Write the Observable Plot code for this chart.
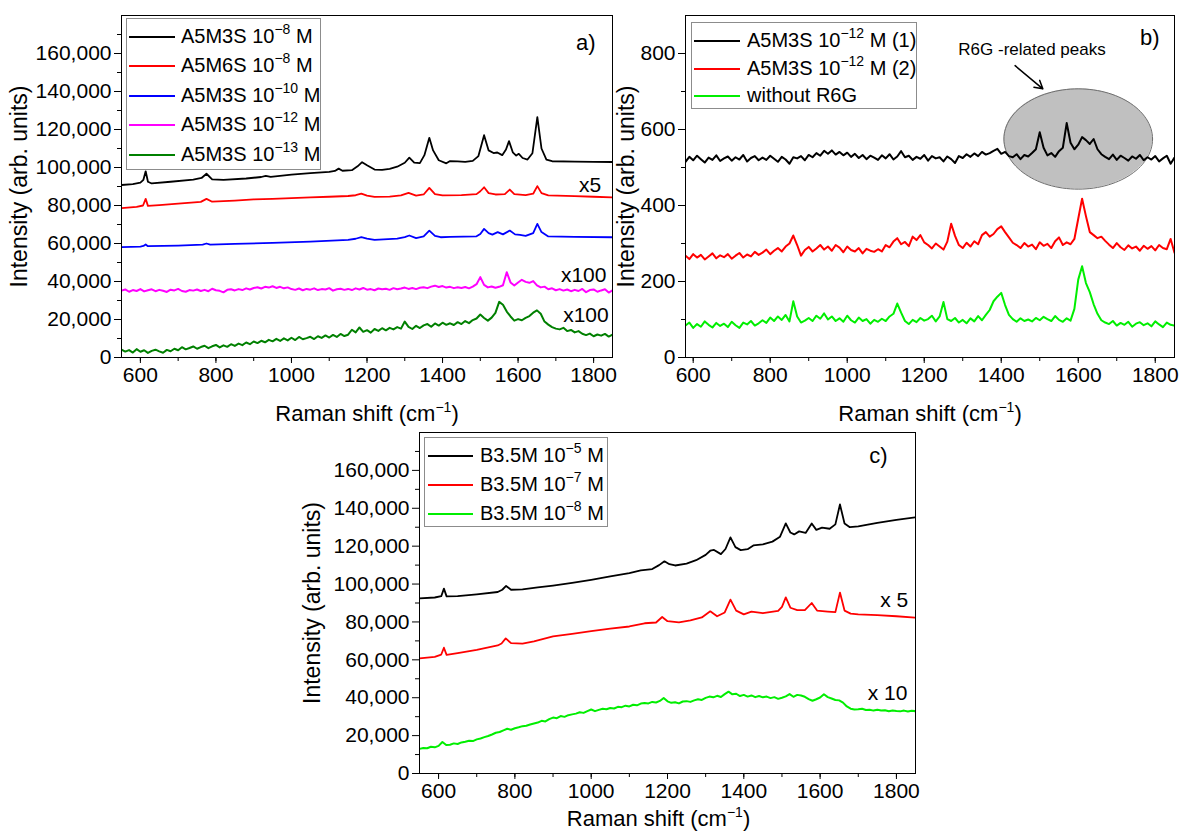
<!DOCTYPE html>
<html><head><meta charset="utf-8">
<script src="https://cdn.jsdelivr.net/npm/d3@7"></script>
<script src="https://cdn.jsdelivr.net/npm/@observablehq/plot@0.6"></script>
<style>
body{margin:0;background:#fff;}
#root{position:relative;width:1181px;height:837px;overflow:hidden;font-family:"Liberation Sans",Arial,sans-serif;}
.panel{position:absolute;}
.legend{position:absolute;border:1px solid #8c8c8c;background:#fff;font-size:20px;color:#000;box-sizing:border-box;}
.legend .sw{position:absolute;height:2px;}
.legend .lt{position:absolute;white-space:nowrap;line-height:20px;}
.legend sup{font-size:14px;position:relative;top:-9px;vertical-align:baseline;line-height:0;}
</style></head>
<body><div id="root"></div>
<script>
// ---------- shared x sampling grids (Raman shift, cm^-1) ----------
const gridA = [550,560,570,580,590,600,610,620,630,640,
650,660,670,680,690,700,710,720,730,740,
750,760,770,780,790,800,810,820,830,840,
850,860,870,880,890,900,910,920,930,940,
950,960,970,980,990,1000,1010,1020,1030,1040,
1050,1060,1070,1080,1090,1100,1110,1120,1130,1140,
1150,1160,1170,1180,1190,1200,1210,1220,1230,1240,
1250,1260,1270,1280,1290,1300,1310,1320,1330,1340,
1350,1360,1370,1380,1390,1400,1410,1420,1430,1440,
1450,1460,1470,1480,1490,1500,1510,1520,1530,1540,
1550,1560,1570,1580,1590,1600,1610,1620,1630,1640,
1650,1660,1670,1680,1690,1700,1710,1720,1730,1740,
1750,1760,1770,1780,1790,1800,1810,1820,1830,1840,1850];
const gridB = [580,590,600,610,620,630,640,650,660,670,
680,690,700,710,720,730,740,750,760,770,
780,790,800,810,820,830,840,850,860,870,
880,890,900,910,920,930,940,950,960,970,
980,990,1000,1010,1020,1030,1040,1050,1060,1070,
1080,1090,1100,1110,1120,1130,1140,1150,1160,1170,
1180,1190,1200,1210,1220,1230,1240,1250,1260,1270,
1280,1290,1300,1310,1320,1330,1340,1350,1360,1370,
1380,1390,1400,1410,1420,1430,1440,1450,1460,1470,
1480,1490,1500,1510,1520,1530,1540,1550,1560,1570,
1580,1590,1600,1610,1620,1630,1640,1650,1660,1670,
1680,1690,1700,1710,1720,1730,1740,1750,1760,1770,
1780,1790,1800,1810,1820,1830,1840,1850];

// ---------- panel a (intensity in thousands) ----------
const aBlack = [[550,90.8],[580,91.3],[600,92.0],[608,93.5],[614,98.0],[620,92.5],[630,91.6],[680,92.5],[740,93.6],[762,94.5],[775,96.7],[790,93.8],[820,93.5],[880,94.2],[920,95.0],[932,95.6],[945,95.1],[1000,96.2],[1050,97.0],[1100,97.7],[1115,98.2],[1125,99.4],[1135,98.3],[1160,98.6],[1175,100.6],[1187,102.8],[1200,101.2],[1220,98.9],[1240,98.8],[1260,99.3],[1280,100.4],[1300,102.5],[1312,105.2],[1325,102.6],[1340,102.3],[1352,106.5],[1365,115.6],[1375,109.0],[1390,103.8],[1410,102.2],[1420,103.4],[1440,103.2],[1460,103.0],[1480,103.5],[1495,106.0],[1510,117.0],[1522,109.0],[1535,107.6],[1545,107.9],[1558,106.5],[1568,109.5],[1576,113.9],[1586,108.0],[1595,106.3],[1602,107.2],[1612,105.0],[1625,104.2],[1638,107.5],[1651,126.5],[1662,110.0],[1675,104.2],[1690,103.3],[1750,103.1],[1800,103.0],[1850,102.9]];
const aRed = [[550,78.6],[590,79.3],[607,80.0],[614,83.5],[620,79.8],[650,80.2],[700,81.0],[760,81.9],[775,83.5],[790,82.0],[850,82.6],[900,83.2],[950,83.5],[1000,83.9],[1050,84.3],[1100,84.6],[1150,85.0],[1170,85.4],[1185,86.2],[1200,85.2],[1220,84.5],[1260,84.7],[1290,85.3],[1310,86.6],[1330,85.2],[1350,85.8],[1365,89.3],[1380,86.0],[1400,85.3],[1450,85.5],[1490,86.0],[1500,87.5],[1510,89.6],[1522,86.5],[1540,85.8],[1565,86.0],[1578,88.4],[1590,86.0],[1620,85.5],[1640,86.2],[1651,90.2],[1662,86.5],[1680,85.3],[1750,84.9],[1800,84.6],[1850,84.3]];
const aBlue = [[550,58.1],[600,58.4],[608,58.7],[614,59.5],[620,58.6],[700,58.9],[765,59.4],[775,60.0],[785,59.4],[850,59.8],[950,60.3],[1050,61.0],[1150,61.9],[1170,62.5],[1185,63.3],[1200,62.6],[1220,61.9],[1280,62.6],[1300,63.4],[1312,64.2],[1330,62.8],[1350,63.8],[1365,66.8],[1380,64.0],[1395,63.3],[1420,63.5],[1490,63.8],[1500,65.0],[1510,67.7],[1522,65.5],[1532,64.7],[1546,66.0],[1560,64.8],[1578,66.8],[1592,64.8],[1605,64.5],[1620,64.0],[1640,65.5],[1651,70.3],[1662,66.0],[1680,63.7],[1750,63.5],[1850,63.3]];
const aPink = [35.2,35.8,34.6,35.5,35.0,36.0,34.8,35.4,35.9,34.9,
35.6,35.1,34.5,35.7,35.3,36.1,35.0,34.6,35.5,35.2,
35.8,35.0,35.6,34.9,36.2,35.4,35.1,34.3,35.6,35.9,
35.3,36.0,35.5,36.4,35.8,36.6,37.0,36.3,37.2,36.8,
37.5,36.6,37.2,36.4,36.9,36.0,35.6,36.3,35.4,36.1,
35.7,36.4,35.5,36.0,35.8,36.5,35.2,35.9,36.2,35.6,
36.1,35.5,36.4,35.8,36.6,35.7,36.0,35.4,36.3,35.9,
36.2,35.6,36.5,35.9,36.3,36.8,36.1,36.6,36.0,36.7,
37.0,36.5,37.3,37.8,37.1,37.6,36.8,37.2,36.5,37.0,
36.6,37.1,36.4,37.3,38.6,42.3,38.2,36.9,37.4,36.7,
37.2,38.0,44.9,39.5,37.9,39.5,40.9,39.8,39.3,40.2,
38.0,36.9,37.3,35.9,36.4,35.4,36.0,35.2,35.8,34.9,
35.6,35.0,36.1,34.4,35.5,35.8,34.6,35.3,35.9,34.2,35.4];
const aGreen = [4.2,3.1,3.9,2.6,4.4,3.0,3.8,2.4,3.5,4.1,
3.2,2.5,4.0,3.3,4.6,3.8,5.4,4.3,5.0,5.8,
4.6,5.5,6.2,4.9,5.9,6.6,5.3,6.4,5.6,7.0,
6.1,7.3,6.5,7.9,7.0,8.4,7.6,8.8,8.0,9.3,
8.5,9.8,8.7,10.1,9.0,10.4,9.2,10.8,9.6,10.2,
10.9,9.7,11.2,10.3,11.6,10.5,11.9,10.8,12.4,11.3,
12.0,14.6,13.2,15.8,13.5,14.4,13.1,15.0,14.0,15.4,
14.3,15.6,14.8,16.0,15.2,18.9,16.1,15.0,16.7,15.5,
16.9,17.6,16.2,17.9,16.8,18.3,17.2,18.0,17.1,18.6,
17.6,19.2,18.1,19.7,20.5,22.6,20.8,19.4,21.0,23.5,
29.3,27.8,24.2,21.6,19.4,20.2,19.6,20.9,21.8,23.6,
24.8,23.0,18.9,17.3,16.0,15.2,14.8,15.6,13.9,14.5,
13.2,13.9,12.5,11.8,12.6,11.2,12.1,11.5,12.4,11.0,12.0];

// ---------- panel b (raw counts) ----------
const bBlack = [515,528,519,531,522,513,526,520,532,517,
524,529,518,527,521,533,516,525,530,519,
526,520,531,523,515,528,521,510,527,524,
530,519,533,527,538,531,544,536,545,534,
541,532,539,528,536,525,533,522,531,526,
520,532,524,535,521,529,543,527,531,520,
528,523,533,518,530,524,527,516,529,522,
512,530,525,535,528,537,530,541,534,538,
544,549,536,541,530,527,535,522,533,529,
538,548,593,552,532,538,528,543,552,617,
565,548,560,580,572,562,575,548,535,528,
522,534,520,531,525,518,529,523,533,519,
527,521,530,516,524,531,510,526];
const bRed = [268,259,272,263,270,258,266,274,261,269,
264,272,260,268,275,263,271,266,278,270,
276,284,272,281,288,279,292,300,321,296,
268,283,291,279,287,296,284,292,281,296,
289,277,292,283,279,288,274,286,281,278,
285,279,296,290,305,314,298,304,293,318,
309,322,303,296,287,300,292,284,305,352,
320,296,288,302,292,306,298,322,330,318,
325,338,345,330,316,302,296,288,301,292,
297,285,303,294,299,288,306,316,296,303,
298,312,365,418,372,330,322,314,318,307,
297,288,301,290,283,295,287,292,281,294,
286,293,282,296,288,285,312,276];
const bGreen = [84,92,78,88,81,95,86,79,91,83,
89,80,94,85,78,92,87,96,84,90,
98,91,105,96,108,99,112,95,148,108,
92,97,104,96,110,102,116,100,108,96,
103,94,110,98,92,105,96,101,89,99,
94,102,96,108,115,142,118,96,88,99,
93,104,97,101,110,95,108,146,101,96,
104,92,99,90,103,95,109,98,112,125,
148,160,170,138,112,101,94,103,96,100,
95,104,98,107,101,96,109,99,94,103,
97,128,205,240,196,172,140,115,98,92,
88,96,84,91,86,94,81,89,93,85,
90,82,95,87,80,92,86,84];
const bEllipse = {cx: 1600, cy: 575, rx: 193, ry: 132};
const bArrow = [{x1: 1436, y1: 768, x2: 1508, y2: 707}];
const bNote = [{x: 1480, y: 810, label: "R6G -related peaks"}];

// ---------- panel c (intensity in thousands) ----------
const cBlack = [[550,92.4],[590,92.9],[607,93.6],[614,97.6],[621,93.5],[650,93.6],[700,94.6],[755,95.8],[767,97.0],[777,99.0],[790,97.0],[820,97.2],[860,98.2],[900,99.2],[950,100.6],[1000,102.2],[1050,104.0],[1100,105.8],[1130,107.2],[1160,107.9],[1178,110.0],[1192,112.0],[1205,110.5],[1220,109.8],[1250,110.8],[1275,112.6],[1300,115.4],[1312,117.6],[1322,118.0],[1340,115.8],[1352,118.5],[1365,124.6],[1378,119.5],[1392,117.9],[1410,118.4],[1425,120.4],[1450,121.0],[1475,122.4],[1495,125.0],[1510,132.0],[1522,127.2],[1532,126.2],[1545,127.8],[1562,127.0],[1578,132.0],[1590,128.6],[1605,129.8],[1625,129.2],[1640,131.5],[1652,142.0],[1664,132.0],[1678,130.0],[1700,130.4],[1750,132.3],[1800,133.9],[1850,135.2]];
const cRed = [[550,60.8],[590,61.6],[607,62.8],[614,66.4],[621,62.6],[650,63.6],[700,65.3],[755,67.6],[765,68.6],[776,71.3],[790,68.8],[820,68.6],[850,69.8],[900,72.4],[950,73.7],[1000,75.2],[1050,76.5],[1100,77.6],[1140,79.3],[1170,79.7],[1186,82.6],[1200,80.4],[1230,79.8],[1260,80.8],[1290,82.4],[1312,85.6],[1330,83.0],[1350,85.0],[1365,91.8],[1380,86.0],[1400,84.0],[1420,85.4],[1450,84.6],[1490,85.8],[1500,88.0],[1510,93.0],[1522,87.5],[1540,86.2],[1560,86.2],[1578,90.0],[1592,86.0],[1620,85.5],[1640,85.2],[1652,95.5],[1664,86.0],[1680,84.4],[1700,84.0],[1750,83.6],[1800,83.0],[1850,82.3]];
const cGreen = [13.0,13.5,13.3,14.1,13.8,14.6,16.6,15.0,15.2,15.9,
15.6,16.4,16.8,17.3,17.1,18.0,18.5,19.2,19.8,20.6,
21.5,21.9,22.8,23.6,23.1,23.9,24.4,25.0,25.2,25.9,
26.4,26.9,27.8,27.5,28.7,29.5,29.2,30.3,29.9,30.8,
31.2,31.6,32.3,32.0,32.9,33.8,32.9,33.6,34.2,33.9,
34.6,34.3,35.2,35.0,35.8,35.4,36.3,36.0,36.9,37.2,
37.0,37.8,37.5,38.3,39.9,38.1,37.3,37.6,37.0,38.0,
38.2,37.8,38.6,39.2,38.8,39.9,40.6,40.2,41.0,40.4,
41.9,43.2,41.8,42.1,40.9,41.5,40.6,41.2,40.3,40.9,
40.2,40.6,39.8,40.3,39.4,40.0,40.7,41.9,40.5,41.5,
41.2,40.5,39.3,38.4,39.2,40.1,41.8,40.3,39.6,38.8,
38.6,37.4,35.4,34.2,33.8,33.9,34.2,33.5,33.7,33.2,
33.6,33.2,33.4,32.9,33.3,33.0,32.8,33.2,32.7,33.1,32.9];

// ---------- ticks, labels, legends ----------
const xMajor = [600,800,1000,1200,1400,1600,1800];
const xMinor = [600,700,800,900,1000,1100,1200,1300,1400,1500,1600,1700,1800];
const yMajorAC = [0,20000,40000,60000,80000,100000,120000,140000,160000];
const yMinorAC = [10000,30000,50000,70000,90000,110000,130000,150000,170000];
const yMajorB = [0,200,400,600,800];
const yMinorB = [100,300,500,700];
const xLabel = "Raman shift (cm-1)";
const yLabel = "Intensity (arb. units)";
const annotA = [{x:1820,y:90500,label:"x5"},{x:1834,y:43200,label:"x100"},{x:1840,y:22100,label:"x100"}];
const annotC = [{x:1831,y:91700,label:"x 5"},{x:1829,y:42100,label:"x 10"}];
const legendA = [["A5M3S 10","−8"," M","#000000"],["A5M6S 10","−8"," M","#ff0000"],["A5M3S 10","−10"," M","#0000ff"],["A5M3S 10","−12"," M","#ff00ff"],["A5M3S 10","−13"," M","#008000"]];
const legendB = [["A5M3S 10","−12"," M (1)","#000000"],["A5M3S 10","−12"," M (2)","#ff0000"],["without R6G","","","#00ee00"]];
const legendC = [["B3.5M 10","−5"," M","#000000"],["B3.5M 10","−7"," M","#ff0000"],["B3.5M 10","−8"," M","#00ee00"]];

const K = 1000;
const fromPairs = (p, k) => p.map(([x, y]) => ({x, y: y * k}));
const fromGrid = (g, v, k) => g.map((x, i) => ({x, y: v[i] * k}));

const baseStyle = {fontFamily: "'Liberation Sans', Arial, sans-serif", fontSize: "21px", color: "#000", background: "transparent", overflow: "visible"};

function axes(yMajor, yMinor, yFmt) {
  return [
    Plot.axisX({ticks: xMinor, tickSize: 4, tickFormat: () => "", label: null}),
    Plot.axisX({ticks: xMajor, tickSize: 6, tickPadding: 4, tickFormat: d => String(d), label: null}),
    Plot.axisY({ticks: yMinor, tickSize: 4, tickFormat: () => "", label: null}),
    Plot.axisY({ticks: yMajor, tickSize: 7, tickPadding: 3, tickFormat: yFmt, label: null})
  ];
}
function labels(ydx, xdy, xdx) {
  return [
    Plot.text([yLabel], {text: d => d, frameAnchor: "left", dx: ydx, rotate: -90, textAnchor: "middle", lineAnchor: "middle", fontSize: 23}),
    Plot.text([xLabel], {text: d => d, frameAnchor: "bottom", dy: xdy, dx: xdx, textAnchor: "middle", lineAnchor: "middle", fontSize: 22})
  ];
}
const ln = (data, color, w = 1.8) => Plot.line(data, {x: "x", y: "y", stroke: color, strokeWidth: w, clip: true});

const plotA = Plot.plot({
  width: 620, height: 430, marginLeft: 121, marginRight: 8, marginTop: 15, marginBottom: 73,
  style: baseStyle,
  x: {domain: [550, 1850]}, y: {domain: [0, 180000]},
  marks: [
    ...axes(yMajorAC, yMinorAC, d3.format(",")),
    ln(fromPairs(aBlack, K), "#000000"),
    ln(fromPairs(aRed, K), "#ff0000"),
    ln(fromPairs(aBlue, K), "#0000ff"),
    ln(fromGrid(gridA, aPink, K), "#ff00ff", 2),
    ln(fromGrid(gridA, aGreen, K), "#008000", 2),
    Plot.frame({stroke: "#000"}),
    Plot.text(annotA, {x: "x", y: "y", text: "label", textAnchor: "end", lineAnchor: "middle", fontSize: 21}),
    Plot.text(["a)"], {text: d => d, frameAnchor: "top-right", dx: -17, dy: 27, textAnchor: "end", lineAnchor: "middle", fontSize: 22}),
    ...labels(-102, 56, 0)
  ]
});

const E = bEllipse;
const angles = d3.range(0, 181, 3);
const ellTop = angles.map(a => ({x: E.cx + E.rx * Math.cos(a * Math.PI / 180), y1: E.cy - E.ry * Math.sin(a * Math.PI / 180), y2: E.cy + E.ry * Math.sin(a * Math.PI / 180)}));
const ellRing = d3.range(0, 361, 3).map(a => ({x: E.cx + E.rx * Math.cos(a * Math.PI / 180), y: E.cy + E.ry * Math.sin(a * Math.PI / 180)}));

const plotB = Plot.plot({
  width: 561, height: 430, marginLeft: 65, marginRight: 7, marginTop: 15, marginBottom: 73,
  style: baseStyle,
  x: {domain: [580, 1850]}, y: {domain: [0, 900]},
  marks: [
    ...axes(yMajorB, yMinorB, d => String(d)),
    Plot.areaY(ellTop, {x: "x", y1: "y1", y2: "y2", fill: "#c0c0c0"}),
    Plot.line(ellRing, {x: "x", y: "y", stroke: "#6e6e6e", strokeWidth: 1}),
    ln(fromGrid(gridB, bBlack, 1), "#000000", 2),
    ln(fromGrid(gridB, bRed, 1), "#ff0000", 2),
    ln(fromGrid(gridB, bGreen, 1), "#00ee00", 2),
    Plot.arrow(bArrow, {x1: "x1", y1: "y1", x2: "x2", y2: "y2", stroke: "#000", strokeWidth: 1.5, headLength: 9}),
    Plot.text(bNote, {x: "x", y: "y", text: "label", fontSize: 17, textAnchor: "middle", lineAnchor: "middle"}),
    Plot.frame({stroke: "#000"}),
    Plot.text(["b)"], {text: d => d, frameAnchor: "top-right", dx: -15, dy: 22, textAnchor: "end", lineAnchor: "middle", fontSize: 22}),
    ...labels(-59, 56, 0)
  ]
});

const plotC = Plot.plot({
  width: 620, height: 417, marginLeft: 119, marginRight: 5, marginTop: 12, marginBottom: 64,
  style: baseStyle,
  x: {domain: [550, 1850]}, y: {domain: [0, 180000]},
  marks: [
    ...axes(yMajorAC, yMinorAC, d3.format(",")),
    ln(fromPairs(cBlack, K), "#000000"),
    ln(fromPairs(cRed, K), "#ff0000"),
    ln(fromGrid(gridA, cGreen, K), "#00ee00", 2),
    Plot.frame({stroke: "#000"}),
    Plot.text(annotC, {x: "x", y: "y", text: "label", textAnchor: "end", lineAnchor: "middle", fontSize: 21}),
    Plot.text(["c)"], {text: d => d, frameAnchor: "top-right", dx: -28, dy: 23, textAnchor: "end", lineAnchor: "middle", fontSize: 22}),
    ...labels(-107, 45, -9)
  ]
});

function fixSup(svg) {
  svg.querySelectorAll("text").forEach(t => {
    if (t.textContent === xLabel) {
      while (t.firstChild) t.removeChild(t.firstChild);
      const ns = "http://www.w3.org/2000/svg";
      const a = document.createElementNS(ns, "tspan"); a.textContent = "Raman shift (cm";
      const b = document.createElementNS(ns, "tspan"); b.textContent = "−1"; b.setAttribute("font-size", "14"); b.setAttribute("dy", "-9");
      const c = document.createElementNS(ns, "tspan"); c.textContent = ")"; c.setAttribute("dy", "9");
      t.append(a, b, c);
    }
  });
}

const root = document.getElementById("root");
function place(svg, left, top) {
  fixSup(svg);
  const d = document.createElement("div"); d.className = "panel"; d.style.left = left + "px"; d.style.top = top + "px";
  d.appendChild(svg); root.appendChild(d);
}
place(plotA, 0, 0);
place(plotB, 620, 0);
place(plotC, 300, 420);

function legend(items, box, rowY, lineX, textX) {
  const el = document.createElement("div"); el.className = "legend";
  Object.assign(el.style, {left: box[0] + "px", top: box[1] + "px", width: box[2] + "px", height: box[3] + "px"});
  items.forEach(([pre, sup, post, color], i) => {
    const sw = document.createElement("div"); sw.className = "sw";
    Object.assign(sw.style, {left: lineX[0] + "px", width: (lineX[1] - lineX[0]) + "px", top: (rowY[i] - 1) + "px", background: color});
    const tx = document.createElement("div"); tx.className = "lt";
    tx.style.left = textX + "px"; tx.style.top = (rowY[i] - 11) + "px";
    tx.innerHTML = pre + (sup ? "<sup>" + sup + "</sup>" : "") + post;
    el.append(sw, tx);
  });
  root.appendChild(el);
}
legend(legendA, [126, 18, 195, 152], [17.5, 47, 76.5, 106, 135.5], [2, 48], 54);
legend(legendB, [691, 22, 226, 87], [17.5, 46, 72.5], [2, 48], 55);
legend(legendC, [424, 437, 184, 90], [17.5, 46.5, 75.5], [3, 48], 55);
</script></body></html>
